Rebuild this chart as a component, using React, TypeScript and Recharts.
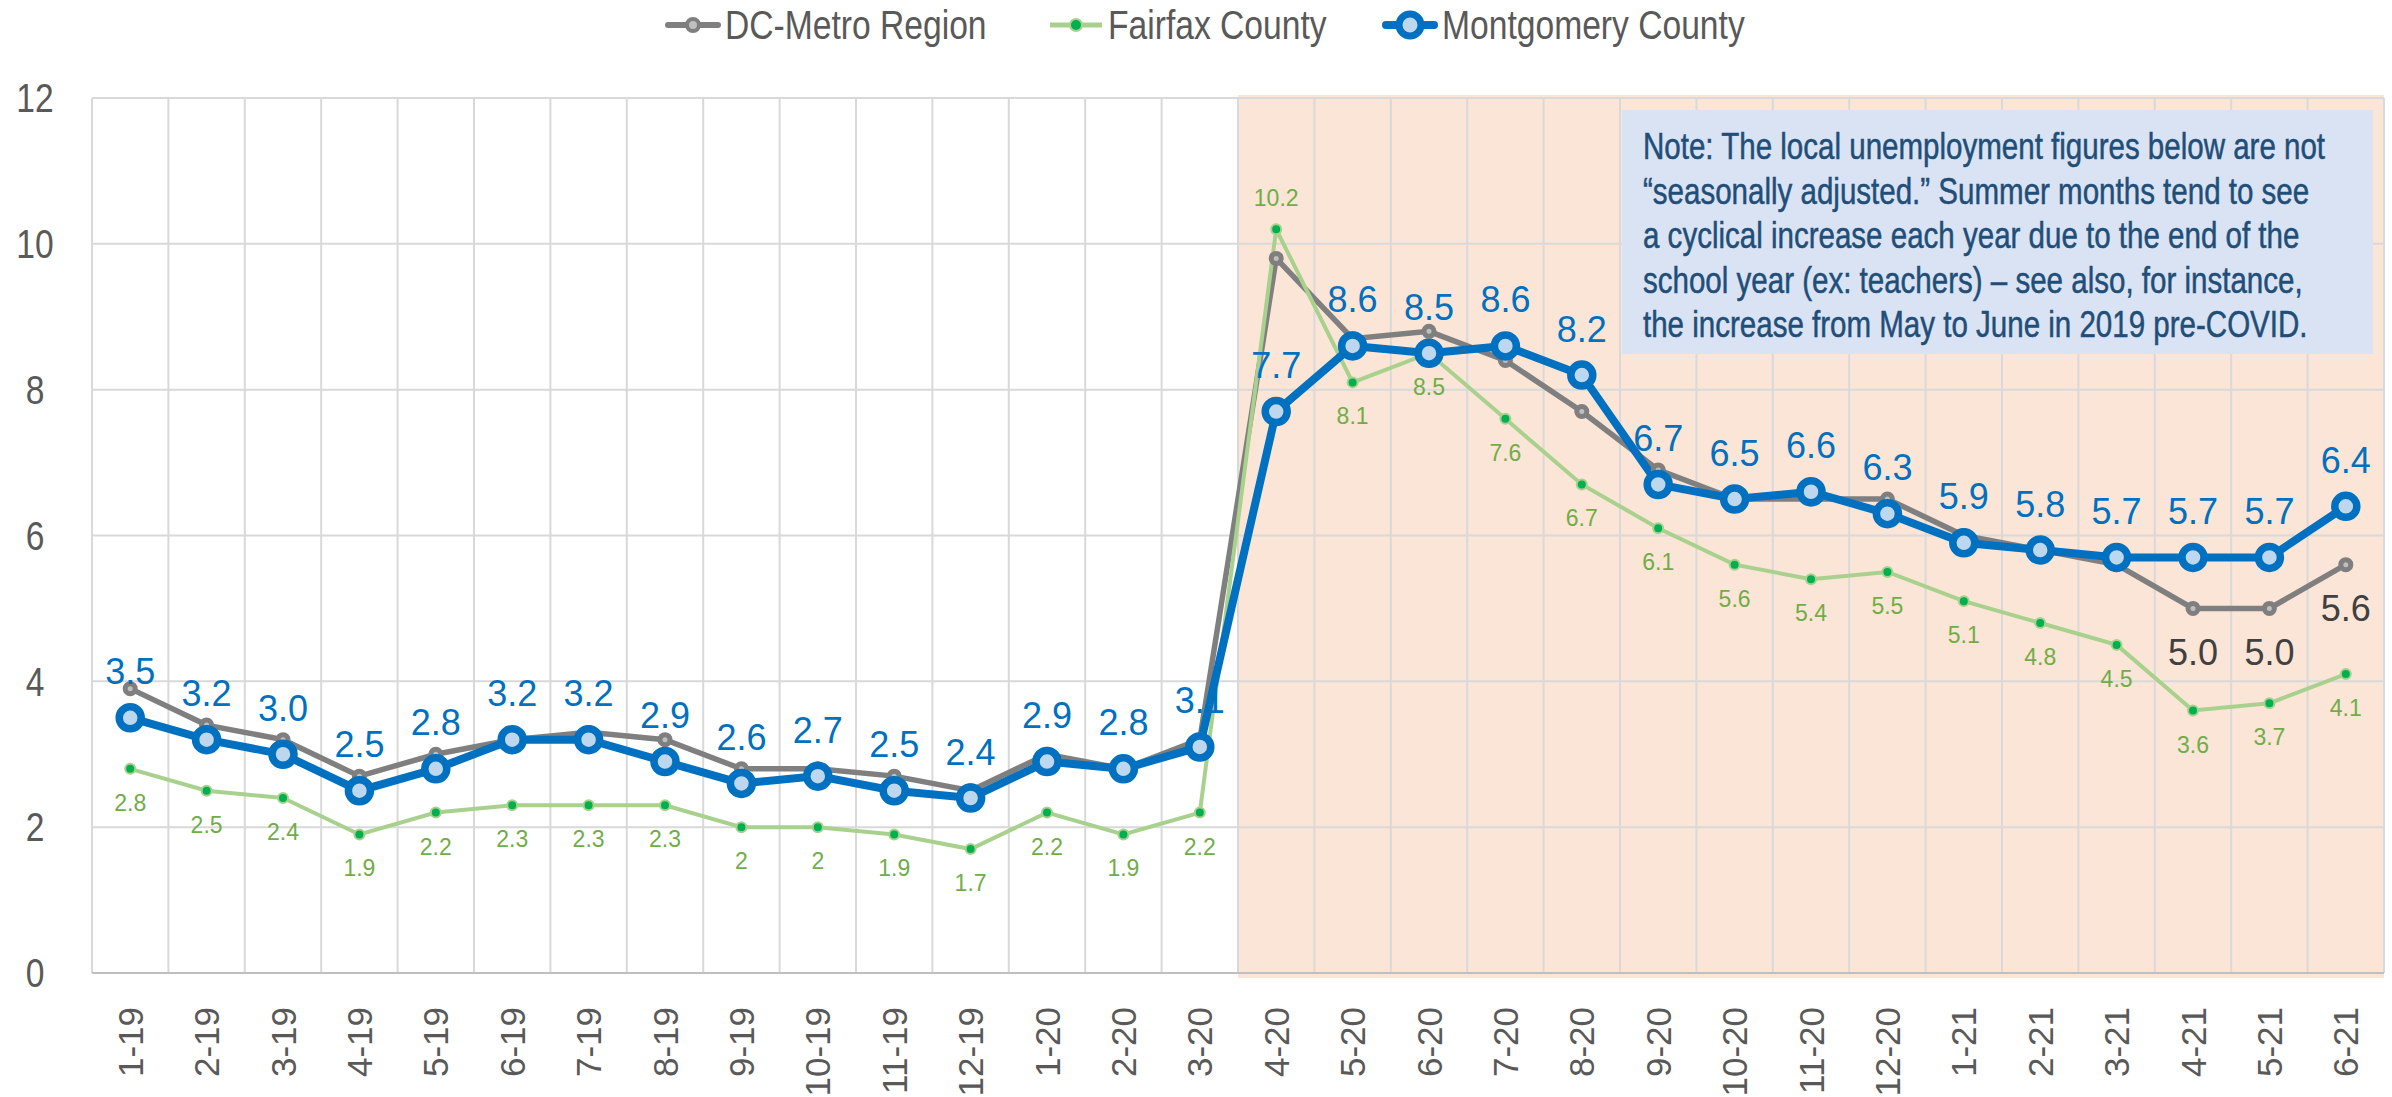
import React from 'react'
import {
  LineChart, Line, XAxis, YAxis, CartesianGrid, ReferenceArea, LabelList,
} from 'recharts'

// monthly unemployment rate (%), Jan 2019 – Jun 2021
const months = [
  '1-19', '2-19', '3-19', '4-19', '5-19', '6-19', '7-19', '8-19', '9-19', '10-19', '11-19', '12-19',
  '1-20', '2-20', '3-20', '4-20', '5-20', '6-20', '7-20', '8-20', '9-20', '10-20', '11-20', '12-20',
  '1-21', '2-21', '3-21', '4-21', '5-21', '6-21',
]
const dcMetro = [
  3.9, 3.4, 3.2, 2.7, 3.0, 3.2, 3.3, 3.2, 2.8, 2.8, 2.7, 2.5,
  3.0, 2.8, 3.2, 9.8, 8.7, 8.8, 8.4, 7.7, 6.9, 6.5, 6.5, 6.5,
  6.0, 5.8, 5.6, 5.0, 5.0, 5.6,
]
const fairfax = [
  2.8, 2.5, 2.4, 1.9, 2.2, 2.3, 2.3, 2.3, 2, 2, 1.9, 1.7,
  2.2, 1.9, 2.2, 10.2, 8.1, 8.5, 7.6, 6.7, 6.1, 5.6, 5.4, 5.5,
  5.1, 4.8, 4.5, 3.6, 3.7, 4.1,
]
const montgomery = [
  3.5, 3.2, 3.0, 2.5, 2.8, 3.2, 3.2, 2.9, 2.6, 2.7, 2.5, 2.4,
  2.9, 2.8, 3.1, 7.7, 8.6, 8.5, 8.6, 8.2, 6.7, 6.5, 6.6, 6.3,
  5.9, 5.8, 5.7, 5.7, 5.7, 6.4,
]
const yTicks = [0, 2, 4, 6, 8, 10, 12]
const covidFrom = '4-20'
const covidTo = '6-21'
const dcLabelFrom = '4-21' // only the last three DC-Metro points carry a label

const noteLines = [
  'Note: The local unemployment figures below are not',
  '\u201Cseasonally adjusted.\u201D Summer months tend to see',
  'a cyclical increase each year due to the end of the',
  'school year (ex: teachers) \u2013 see also, for instance,',
  'the increase from May to June in 2019 pre-COVID.',
]

const data = months.map((m, i) => ({ month: m, dc: dcMetro[i], ff: fairfax[i], mc: montgomery[i] }))

// no condensed face installed -> squeeze Liberation Sans horizontally
const SANS = "'Liberation Sans', Arial, sans-serif"
const SQUEEZE = 0.82

const BLUE = '#0070C0'
const GRAY = '#7F7F7F'
const GREEN_LINE = '#A9D18E'
const GREEN_DOT = '#00B050'

const W = 2392
const H = 1097
const plotLeft = 92
const plotRight = 8
const plotTop = 98
const axisHeight = 124

const ffPeak = fairfax.indexOf(Math.max(...fairfax))
const dcLabelStart = months.indexOf(dcLabelFrom)

function YTick({ y, payload }: any) {
  return (
    <text transform={`translate(35, ${y}) scale(${SQUEEZE}, 1)`} textAnchor="middle" dominantBaseline="central"
      style={{ fontFamily: SANS, fontSize: 41, fill: '#595959' }}>
      {payload.value}
    </text>
  )
}

function XTick({ x, y, payload }: any) {
  const ty = y + 34
  return (
    <text x={x} y={ty} transform={`rotate(-90, ${x}, ${ty})`} textAnchor="end" dominantBaseline="central"
      style={{ fontFamily: SANS, fontSize: 35, fill: '#595959' }}>
      {payload.value}
    </text>
  )
}

function McLabel({ x, y, value }: any) {
  return (
    <text x={x} y={y - 46} textAnchor="middle" dominantBaseline="central"
      style={{ fontFamily: SANS, fontSize: 36, fill: BLUE }}>
      {Number(value).toFixed(1)}
    </text>
  )
}

function FfLabel({ x, y, value, index }: any) {
  const above = index === ffPeak
  return (
    <text x={x} y={above ? y - 31 : y + 34} textAnchor="middle" dominantBaseline="central"
      style={{ fontFamily: SANS, fontSize: 23, fill: '#70AD47' }}>
      {value}
    </text>
  )
}

function DcLabel({ x, y, value, index }: any) {
  if (index < dcLabelStart) return null
  return (
    <text x={x} y={y + 44} textAnchor="middle" dominantBaseline="central"
      style={{ fontFamily: SANS, fontSize: 36, fill: '#404040' }}>
      {Number(value).toFixed(1)}
    </text>
  )
}

function LegendIcon({ kind }: { kind: 'dc' | 'ff' | 'mc' }) {
  return (
    <svg width={56} height={40} style={{ display: 'block' }}>
      {kind === 'dc' && <>
        <line x1={3} y1={20} x2={53} y2={20} stroke={GRAY} strokeWidth={6} strokeLinecap="round" />
        <circle cx={28} cy={20} r={6} fill="#BFBFBF" stroke={GRAY} strokeWidth={4} />
      </>}
      {kind === 'ff' && <>
        <line x1={2} y1={20} x2={54} y2={20} stroke={GREEN_LINE} strokeWidth={5} />
        <circle cx={28} cy={20} r={6} fill={GREEN_DOT} stroke={GREEN_LINE} strokeWidth={2} />
      </>}
      {kind === 'mc' && <>
        <line x1={4} y1={20} x2={52} y2={20} stroke={BLUE} strokeWidth={8} strokeLinecap="round" />
        <circle cx={28} cy={20} r={11} fill="#BDD7EE" stroke={BLUE} strokeWidth={7} />
      </>}
    </svg>
  )
}

const legendItems: Array<{ kind: 'dc' | 'ff' | 'mc'; name: string; left: number }> = [
  { kind: 'dc', name: 'DC-Metro Region', left: 665 },
  { kind: 'ff', name: 'Fairfax County', left: 1048 },
  { kind: 'mc', name: 'Montgomery County', left: 1382 },
]

export default function App() {
  return (
    <div style={{ position: 'absolute', left: 0, top: 0, width: W, height: H, background: '#fff' }}>
      <LineChart width={W} height={H} data={data}
        margin={{ top: plotTop, right: plotRight, bottom: 0, left: 0 }}>
        <ReferenceArea x1={covidFrom} x2={covidTo} y1={-0.07} y2={12.04} ifOverflow="visible"
          fill="#FBE5D6" fillOpacity={1} stroke="none" zIndex={-200} />
        <CartesianGrid stroke="#D9D9D9" strokeWidth={2}
          verticalCoordinatesGenerator={({ offset }: any) =>
            months.map((_, i) => offset.left + (i * offset.width) / months.length).concat(offset.left + offset.width)}
        />
        <XAxis dataKey="month" scale="band" interval={0} height={axisHeight} tickSize={0} tickMargin={0}
          tickLine={false} axisLine={{ stroke: '#BFBFBF', strokeWidth: 2 }} tick={<XTick />} />
        <YAxis domain={[0, 12]} ticks={yTicks} width={plotLeft} axisLine={false} tickLine={false}
          tick={<YTick />} />

        <Line dataKey="dc" name="DC-Metro Region" stroke={GRAY} strokeWidth={5.5}
          dot={{ r: 5, fill: '#BFBFBF', stroke: GRAY, strokeWidth: 5 }} isAnimationActive={false}>
          <LabelList dataKey="dc" content={<DcLabel />} />
        </Line>
        <Line dataKey="ff" name="Fairfax County" stroke={GREEN_LINE} strokeWidth={4}
          dot={{ r: 5, fill: GREEN_DOT, stroke: GREEN_LINE, strokeWidth: 2 }} isAnimationActive={false}>
          <LabelList dataKey="ff" content={<FfLabel />} />
        </Line>
        <Line dataKey="mc" name="Montgomery County" stroke={BLUE} strokeWidth={8}
          dot={{ r: 11, fill: '#BDD7EE', stroke: BLUE, strokeWidth: 7.5 }} isAnimationActive={false}>
          <LabelList dataKey="mc" content={<McLabel />} />
        </Line>
      </LineChart>

      {/* legend */}
      {legendItems.map(it => (
        <div key={it.kind} style={{
          position: 'absolute', left: it.left, top: 5, height: 40, display: 'flex', alignItems: 'center',
          fontFamily: SANS, fontSize: 41, color: '#595959', whiteSpace: 'nowrap',
        }}>
          <LegendIcon kind={it.kind} />
          <span style={{
            lineHeight: '40px', marginLeft: 4, display: 'inline-block',
            transform: `scaleX(${SQUEEZE})`, transformOrigin: 'left center',
          }}>{it.name}</span>
        </div>
      ))}

      {/* note box */}
      <div style={{
        position: 'absolute', left: 1622, top: 110, width: 751, height: 244, background: '#DAE3F3',
        boxSizing: 'border-box', padding: '15px 0 0 21px', overflow: 'hidden',
      }}>
        <div style={{
          fontFamily: SANS, fontSize: 36, lineHeight: '44.5px', color: '#1F4E79', whiteSpace: 'nowrap',
          transform: `scaleX(${SQUEEZE})`, transformOrigin: 'left top', WebkitTextStroke: '0.5px #1F4E79',
        }}>
          {noteLines.map(l => <div key={l}>{l}</div>)}
        </div>
      </div>
    </div>
  )
}
